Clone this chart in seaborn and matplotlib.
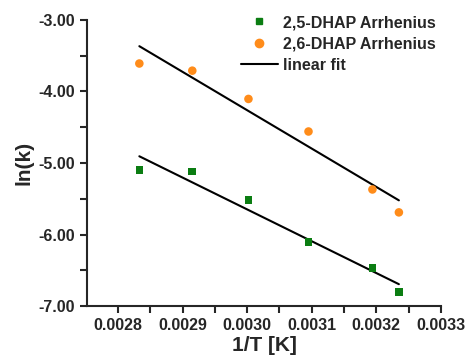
import numpy as np
import pandas as pd
import matplotlib
matplotlib.use('Agg')
import matplotlib.pyplot as plt
from matplotlib.ticker import FormatStrFormatter, MultipleLocator
from matplotlib.lines import Line2D
import seaborn as sns

# data
inv_T = [0.002833, 0.002915, 0.003002, 0.003095, 0.003194, 0.003235]
lnk_25 = [-5.10, -5.12, -5.52, -6.10, -6.47, -6.80]
lnk_26 = [-3.61, -3.71, -4.105, -4.56, -5.37, -5.69]

green = '#0b7d12'
orange = '#ff8c1a'

sns.set_style("ticks")
plt.rcParams['font.family'] = ['Liberation Sans', 'DejaVu Sans']
plt.rcParams['font.weight'] = 'bold'

df = pd.DataFrame({'inv_T': inv_T, 'lnk_25': lnk_25, 'lnk_26': lnk_26})

fig = plt.figure(figsize=(4.68, 3.61), dpi=100)
ax = fig.add_axes([0.186, 0.152, 0.756, 0.793])

# linear fits (least squares, drawn over the data range)
sns.regplot(data=df, x='inv_T', y='lnk_25', scatter=False, ci=None, truncate=True,
            color='black', line_kws={'linewidth': 1.5}, ax=ax)
sns.regplot(data=df, x='inv_T', y='lnk_26', scatter=False, ci=None, truncate=True,
            color='black', line_kws={'linewidth': 1.5}, ax=ax)
sns.scatterplot(data=df, x='inv_T', y='lnk_25', marker='s', color=green, s=30,
                edgecolor='none', ax=ax, zorder=3)
sns.scatterplot(data=df, x='inv_T', y='lnk_26', marker='o', color=orange, s=38,
                edgecolor='none', ax=ax, zorder=3)

ax.set_xlim(0.002752, 0.0033)
ax.set_ylim(-7.0, -3.0)
ax.xaxis.set_major_locator(MultipleLocator(0.0001))
ax.xaxis.set_minor_locator(MultipleLocator(0.00005))
ax.yaxis.set_major_locator(MultipleLocator(1.0))
ax.yaxis.set_minor_locator(MultipleLocator(0.5))
ax.xaxis.set_major_formatter(FormatStrFormatter('%.4f'))
ax.yaxis.set_major_formatter(FormatStrFormatter('%.2f'))
ax.tick_params(which='both', direction='out', length=5, width=1.5, labelsize=11.5)
for lab in ax.get_xticklabels() + ax.get_yticklabels():
    lab.set_fontweight('bold')
for s in ['left', 'bottom']:
    ax.spines[s].set_linewidth(1.5)
sns.despine(ax=ax)

ax.set_xlabel('1/T [K]', fontsize=15, fontweight='bold', labelpad=2)
ax.set_ylabel('ln(k)', fontsize=15, fontweight='bold', labelpad=4)

handles = [
    Line2D([], [], marker='s', color=green, linestyle='none', markersize=5),
    Line2D([], [], marker='o', color=orange, linestyle='none', markersize=6),
    Line2D([], [], color='black', linewidth=1.5),
]
labels = ['2,5-DHAP Arrhenius', '2,6-DHAP Arrhenius', 'linear fit']
ax.legend(handles, labels, loc='upper left', bbox_to_anchor=(0.416, 1.039), frameon=False,
          prop={'weight': 'bold', 'size': 11.5}, handlelength=2.35, handletextpad=0.3,
          labelspacing=0.4, borderaxespad=0)

fig.savefig('out.png', dpi=100)
